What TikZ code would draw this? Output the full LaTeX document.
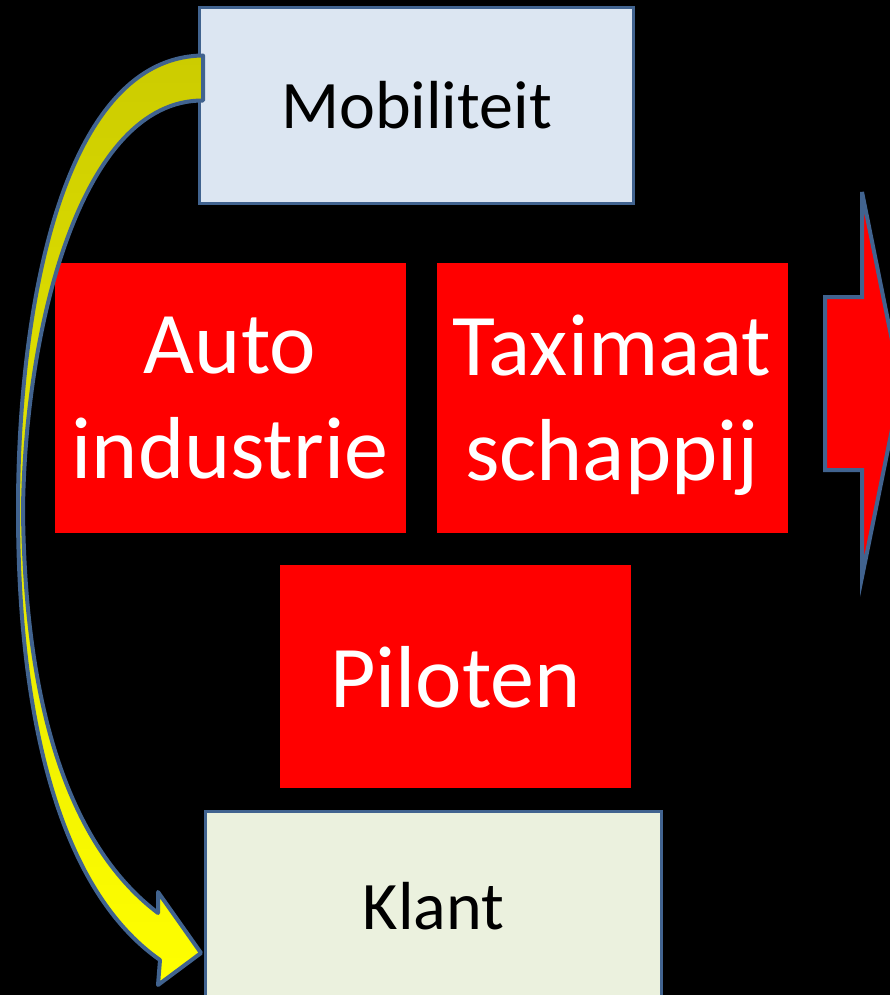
\documentclass[tikz,border=0pt]{standalone}
\usepackage{fontspec}
\setmainfont{Carlito}
\usetikzlibrary{calc}
\definecolor{rim}{RGB}{65,99,143}
\definecolor{mobfill}{RGB}{220,230,242}
\definecolor{klantfill}{RGB}{235,241,222}
\definecolor{darkyellow}{RGB}{204,204,0}

\begin{document}
\begin{tikzpicture}[x=1pt, y=-1pt,
		light/.style = {draw=rim, line width=3pt, minimum width=434pt, minimum height=196pt, text=black, font=\fontsize{68}{82}\selectfont},
		redbox/.style = {fill=red, minimum width=351pt, minimum height=270pt, text=white, align=center, text depth=0pt, font=\fontsize{88}{105}\selectfont}]
			\useasboundingbox (0,0) rectangle (890,995);
			\clip (0,0) rectangle (890,995);
			\fill[black] (0,0) rectangle (890,995);
			\node[light, fill=mobfill] (mob) at (416.5,105.5) {Mobiliteit};
			\node[redbox] (auto) at (230,398) {Auto\\industrie};
			\node[redbox] (taxi) at (612,398) {Taximaat\\schappij};
			\node[redbox, minimum height=223pt] (pilot) at (455.5,676.5) {Piloten};
			\node[light, fill=klantfill, minimum width=456pt, minimum height=190pt] (klant) at (433.5,906) {Klant};
			% curved arrow
			\coordinate (tailtop) at ($(mob.west)+(5,-50)$);
			\coordinate (tailbot) at ($(mob.west)+(5,-5)$);
			\coordinate (tip) at ($(klant.west)+(-3,47)$);
			\draw[rim, line width=4pt, line join=round, top color=darkyellow, bottom color=yellow]
				(tailtop) .. controls (65,57) and (18,300) .. (18,510)
				.. controls (18,720) and (60,890) .. (160,960)
				-- (158,985) -- (tip) -- (158,892) -- (158,913)
				.. controls (75,850) and (25,720) .. (23,510)
				.. controls (25,330) and (80,100) .. (tailbot) -- cycle;
			% block arrow on the right
			\draw[rim, line width=4pt, fill=red] (825,297) -- (862,297) -- (862,192) -- (901,385) -- (862,577) -- (862,470) -- (825,470) -- cycle;
		\end{tikzpicture}
\end{document}
